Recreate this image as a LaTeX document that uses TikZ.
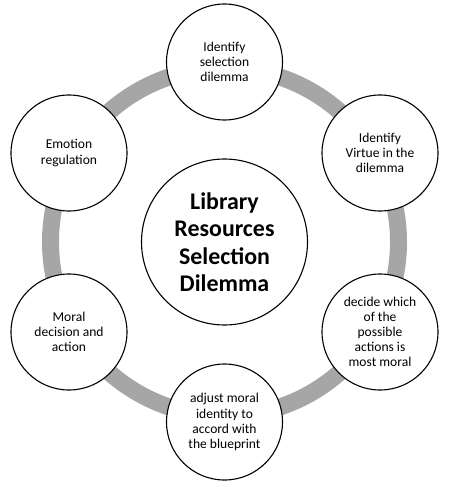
\documentclass[tikz,border=0pt]{standalone}
\usepackage{fontspec}
\setmainfont{Carlito}
\definecolor{ringgray}{HTML}{A6A6A6}
\begin{document}
\begin{tikzpicture}[x=1bp,y=-1bp,
  smallc/.style={circle,draw=black,line width=1.1bp,fill=white,minimum size=116bp,inner sep=0pt,align=center,font=\fontsize{13.6}{15.2}\selectfont},
  bigc/.style={circle,draw=black,line width=1.1bp,fill=white,minimum size=166bp,inner sep=0pt,align=center,font=\bfseries\fontsize{24}{27.5}\selectfont},
  ringline/.style={draw=ringgray,line width=17bp}]
\useasboundingbox (0,0) rectangle (451,487);
\coordinate (ctr) at (224.5,242);
\draw[ringline] (ctr) circle[radius=174bp];
\node[bigc] (main) at (ctr) {Library\\Resources\\Selection\\Dilemma};
\node[smallc] (top) at (224.5,62) {Identify\\selection\\dilemma};
\node[smallc] (ur) at (380,153) {Identify\\Virtue in the\\dilemma};
\node[smallc] (lr) at (380,332) {decide which\\of the\\possible\\actions is\\most moral};
\node[smallc] (bot) at (224.5,422) {adjust moral\\identity to\\accord with\\the blueprint};
\node[smallc] (ll) at (69,332) {Moral\\decision and\\action};
\node[smallc] (ul) at (69,153) {Emotion\\regulation};
\end{tikzpicture}
\end{document}
